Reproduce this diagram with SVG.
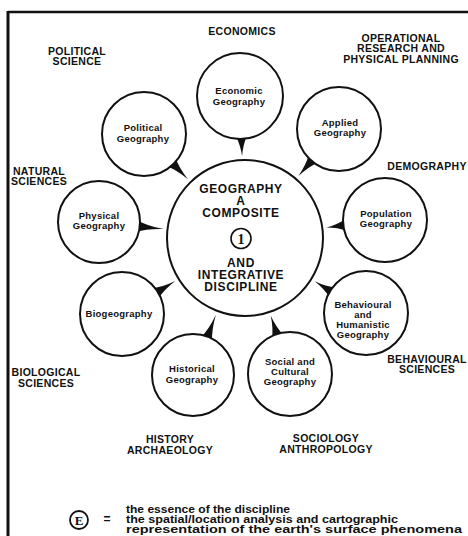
<svg xmlns="http://www.w3.org/2000/svg" width="468" height="536" viewBox="0 0 468 536">
<style>
text{font-family:"Liberation Sans",Arial,sans-serif;font-weight:bold;fill:#111;text-anchor:middle}
.lab{font-size:10.5px;letter-spacing:0.3px}
.sat{font-size:9.5px;letter-spacing:0.25px}
.ctr{font-size:12px;letter-spacing:0.6px}
.leg{font-size:10px;text-anchor:start}
.serif{font-family:"Liberation Serif","Times New Roman",serif}
circle.node{fill:#fff;stroke:#111;stroke-width:2}
.wedge{fill:#111}
.frame{stroke:#111;fill:none}
</style>
<rect width="468" height="536" fill="#fff"/>
<g id="frame">
<line class="frame" x1="8" y1="12" x2="468" y2="12" stroke-width="2.5"/>
<line class="frame" x1="8" y1="11" x2="8" y2="536" stroke-width="3"/>
</g>
<g id="connectors">
<path class="wedge" transform="translate(240,96) rotate(88)" d="M40,-5.5 Q49,-1.3 60,0 Q49,1.3 40,5.5 Z"/>
<path class="wedge" transform="translate(144,134) rotate(45.8)" d="M39,-6 Q49,-1.4 63,0 Q49,1.4 39,6 Z"/>
<path class="wedge" transform="translate(339,129) rotate(130.8)" d="M39,-6 Q49,-1.4 62,0 Q49,1.4 39,6 Z"/>
<path class="wedge" transform="translate(99,222) rotate(6.25)" d="M38,-6 Q48,-1.4 65,0 Q48,1.4 38,6 Z"/>
<path class="wedge" transform="translate(385,220) rotate(172.7)" d="M39,-6 Q48,-1.4 59,0 Q48,1.4 39,6 Z"/>
<path class="wedge" transform="translate(122,314) rotate(-31.7)" d="M39,-6 Q49,-1.4 62.6,0 Q49,1.4 39,6 Z"/>
<path class="wedge" transform="translate(366,313) rotate(211.8)" d="M39,-6 Q48,-1.4 60.4,0 Q48,1.4 39,6 Z"/>
<path class="wedge" transform="translate(193,375) rotate(-69.2)" d="M38,-6 Q48,-1.4 64.5,0 Q48,1.4 38,6 Z"/>
<path class="wedge" transform="translate(290,374) rotate(-108.3)" d="M39,-6 Q49,-1.4 61.3,0 Q49,1.4 39,6 Z"/>
</g>
<g id="center">
<circle class="node" cx="245" cy="238" r="78"/>
<text class="ctr" x="241" y="193">GEOGRAPHY</text>
<text class="ctr" x="241" y="205">A</text>
<text class="ctr" x="241" y="217">COMPOSITE</text>
<circle cx="241" cy="238.5" r="10" fill="none" stroke="#111" stroke-width="1.6"/>
<text class="serif" x="241" y="243.5" style="font-size:14px">1</text>
<text class="ctr" x="241" y="267">AND</text>
<text class="ctr" x="241" y="279">INTEGRATIVE</text>
<text class="ctr" x="241" y="291">DISCIPLINE</text>
</g>
<g id="economic-geography">
<circle class="node" cx="240" cy="96" r="43"/>
<text class="sat" x="239" y="94">Economic</text>
<text class="sat" x="239" y="104.5">Geography</text>
</g>
<g id="political-geography">
<circle class="node" cx="144" cy="134" r="42"/>
<text class="sat" x="143" y="131">Political</text>
<text class="sat" x="143" y="142">Geography</text>
</g>
<g id="applied-geography">
<circle class="node" cx="339" cy="129" r="42"/>
<text class="sat" x="340" y="126">Applied</text>
<text class="sat" x="340" y="136">Geography</text>
</g>
<g id="physical-geography">
<circle class="node" cx="99" cy="222" r="41"/>
<text class="sat" x="99" y="219">Physical</text>
<text class="sat" x="99" y="229">Geography</text>
</g>
<g id="population-geography">
<circle class="node" cx="385" cy="220" r="42"/>
<text class="sat" x="386" y="217">Population</text>
<text class="sat" x="386" y="227">Geography</text>
</g>
<g id="biogeography">
<circle class="node" cx="122" cy="314" r="42"/>
<text class="sat" x="119" y="317">Biogeography</text>
</g>
<g id="behavioural-geography">
<circle class="node" cx="366" cy="313" r="42"/>
<text class="sat" x="363" y="308">Behavioural</text>
<text class="sat" x="363" y="318">and</text>
<text class="sat" x="363" y="328">Humanistic</text>
<text class="sat" x="363" y="338">Geography</text>
</g>
<g id="historical-geography">
<circle class="node" cx="193" cy="375" r="41"/>
<text class="sat" x="192" y="372">Historical</text>
<text class="sat" x="192" y="383">Geography</text>
</g>
<g id="social-geography">
<circle class="node" cx="290" cy="374" r="42"/>
<text class="sat" x="290" y="365">Social and</text>
<text class="sat" x="290" y="375">Cultural</text>
<text class="sat" x="290" y="385">Geography</text>
</g>
<g id="labels">
<text class="lab" x="242" y="35">ECONOMICS</text>
<text class="lab" x="77" y="55">POLITICAL</text>
<text class="lab" x="77" y="65">SCIENCE</text>
<text class="lab" x="401" y="42">OPERATIONAL</text>
<text class="lab" x="401" y="52">RESEARCH AND</text>
<text class="lab" x="401" y="62.5">PHYSICAL PLANNING</text>
<text class="lab" x="427" y="170">DEMOGRAPHY</text>
<text class="lab" x="39" y="175">NATURAL</text>
<text class="lab" x="39" y="185">SCIENCES</text>
<text class="lab" x="46" y="376">BIOLOGICAL</text>
<text class="lab" x="46" y="387">SCIENCES</text>
<text class="lab" x="427" y="363">BEHAVIOURAL</text>
<text class="lab" x="427" y="373">SCIENCES</text>
<text class="lab" x="170" y="443">HISTORY</text>
<text class="lab" x="170" y="454">ARCHAEOLOGY</text>
<text class="lab" x="326" y="442">SOCIOLOGY</text>
<text class="lab" x="326" y="453">ANTHROPOLOGY</text>
</g>
<g id="legend">
<circle cx="79" cy="520" r="9" fill="none" stroke="#111" stroke-width="1.8"/>
<text class="serif" x="79" y="525" style="font-size:13px">E</text>
<text x="107" y="523" style="font-size:12px">=</text>
<text class="leg" x="126" y="513" textLength="164" lengthAdjust="spacingAndGlyphs">the essence of the discipline</text>
<text class="leg" x="126" y="523" textLength="272" lengthAdjust="spacingAndGlyphs">the spatial/location analysis and cartographic</text>
<text class="leg" x="126" y="532.5" textLength="336" lengthAdjust="spacingAndGlyphs">representation of the earth's surface phenomena</text>
</g>
</svg>
